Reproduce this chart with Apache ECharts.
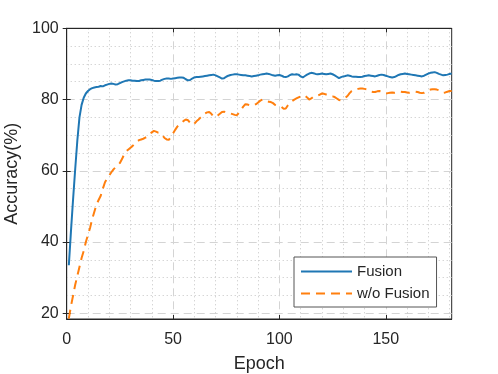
<!DOCTYPE html>
<html>
<head>
<meta charset="utf-8">
<script src="https://cdn.jsdelivr.net/npm/echarts@6/dist/echarts.min.js"></script>
<style>
  html, body { margin: 0; padding: 0; background: #fff; }
  #chart { width: 498px; height: 374px; }
</style>
</head>
<body>
<div id="chart"></div>
<script>
// accuracy per epoch (1..181)
const fusion = [
  33.5, 43, 52, 60.5, 68.5, 75, 78.5, 80.5, 81.7, 82.4,
  82.9, 83.2, 83.4, 83.5, 83.6, 83.8, 83.7, 84.0, 84.2, 84.4,
  84.5, 84.4, 84.2, 84.3, 84.6, 84.9, 85.1, 85.3, 85.4, 85.4,
  85.3, 85.3, 85.2, 85.2, 85.4, 85.5, 85.6, 85.6, 85.6, 85.5,
  85.3, 85.2, 85.2, 85.3, 85.6, 85.8, 85.9, 85.9, 85.8, 85.9,
  86.0, 86.1, 86.2, 86.2, 86.1, 85.7, 85.4, 85.5, 85.9, 86.2,
  86.3, 86.3, 86.4, 86.5, 86.6, 86.7, 86.8, 86.9, 87.0, 86.8,
  86.5, 86.2, 85.9, 86.0, 86.4, 86.7, 86.9, 87.0, 87.1, 87.1,
  87.0, 86.9, 86.8, 86.8, 86.7, 86.6, 86.5, 86.6, 86.7, 86.8,
  87.0, 87.1, 87.2, 87.3, 87.2, 87.0, 86.8, 86.7, 86.8, 86.9,
  86.7, 86.4, 86.3, 86.5, 86.9, 87.1, 87.0, 87.1, 87.0, 86.5,
  86.2, 86.6, 87.0, 87.3, 87.5, 87.4, 87.2, 87.1, 87.2, 87.3,
  87.2, 87.1, 87.2, 87.3, 87.1, 86.8, 86.4, 86.0, 86.3, 86.5,
  86.6, 86.8, 86.7, 86.5, 86.4, 86.4, 86.3, 86.3, 86.4, 86.6,
  86.7, 86.8, 86.7, 86.6, 86.5, 86.7, 86.9, 87.0, 86.9, 86.7,
  86.5, 86.3, 86.2, 86.3, 86.6, 86.9, 87.1, 87.2, 87.3, 87.2,
  87.1, 87.0, 86.9, 86.8, 86.7, 86.6, 86.5, 86.7, 87.0, 87.3,
  87.5, 87.6, 87.7, 87.5, 87.2, 87.0, 86.8, 86.9, 87.0, 87.2,
  87.3
];
const noFusion = [
  18.5, 22, 25, 28, 30.5, 33, 35.5, 37.5, 40, 42,
  44, 46.5, 48.5, 50.5, 51.8, 53, 55, 56.8, 57.8, 58.7,
  59.6, 60.4, 61, 61.6, 62.2, 63.3, 64.6, 65.5, 66, 66.5,
  67, 67.6, 68.2, 68.6, 68.8, 69, 69.3, 69.6, 70.2, 70.8,
  71.2, 71.0, 70.7, 70.6, 70.0, 69.2, 68.8, 68.7, 69.5, 70.5,
  71.5, 72.4, 73, 73.5, 74, 74.4, 74.2, 73.5, 72.9, 73.2,
  73.9, 74.4, 75, 75.6, 76.1, 76.4, 76.5, 76, 75.3, 75.1,
  75.5, 76, 76.5, 76.6, 76.4, 76.2, 76.1, 75.9, 75.7, 75.6,
  76.3, 77.2, 78, 78.7, 78.6, 78.4, 78.3, 78.4, 78.7, 79.2,
  79.7, 80, 79.8, 79.5, 79.4, 79.3, 79.0, 78.5, 78.3, 78.1,
  77.9, 77.4, 77.5, 78.4, 79.1, 79.6, 80.0, 80.3, 80.6, 80.9,
  81.2, 81.1, 80.6, 80.0, 80.3, 80.8, 81.0, 81.1, 81.4, 81.7,
  81.6, 81.4, 81.2, 81.0, 80.9, 80.7, 80.3, 79.9, 79.8, 80.1,
  80.5, 81.0, 81.8, 82.4, 82.6, 82.8, 83.0, 83.1, 83.1, 83.0,
  82.9, 82.6, 82.3, 82.1, 82.1, 82.3, 82.4, 82.2, 81.9, 81.7,
  81.8, 81.9, 82.0, 81.9, 82.0, 82.1, 82.2, 82.1, 82.1, 82.0,
  81.9, 82.0, 82.1, 82.2, 82.1, 81.9, 81.8, 81.9, 82.2, 82.6,
  82.8, 82.9, 82.9, 82.8, 82.6, 82.2, 81.9, 82.0, 82.2, 82.4,
  82.4
];
const epochs = fusion.map((v, i) => i + 1);

const xTicks = [0, 50, 100, 150];
const xMinor = [10, 20, 30, 40, 60, 70, 80, 90, 110, 120, 130, 140, 160, 170, 180];
const yTicks = [20, 40, 60, 80, 100];
const yMinor = [25, 30, 35, 45, 50, 55, 65, 70, 75, 85, 90, 95];

const axisColor = '#262626';
const font = 'Liberation Sans, Arial, Helvetica, sans-serif';

const majorGrid = { show: true, lineStyle: { color: '#d4d4d4', width: 1, type: [8, 5] } };
const minorGrid = { show: true, lineStyle: { color: '#c4c4c4', width: 1, type: [1, 3] } };

const chart = echarts.init(document.getElementById('chart'));
chart.setOption({
  backgroundColor: '#fff',
  animation: false,
  grid: {
    left: 66.7, right: 46.3, top: 28.3, bottom: 55,
    outerBoundsMode: 'none', containLabel: false,
    show: true, borderColor: axisColor, borderWidth: 1
  },
  legend: {
    orient: 'vertical',
    left: 294, top: 257,
    itemWidth: 51, itemHeight: 14, itemGap: 7,
    padding: [7, 7, 6, 6],
    borderColor: '#555', borderWidth: 1, backgroundColor: '#fff',
    itemStyle: { opacity: 0 },
    textStyle: { fontFamily: font, fontSize: 15, color: axisColor },
    data: ['Fusion', 'w/o Fusion']
  },
  xAxis: [
    {
      type: 'value', min: 0, max: 181, position: 'bottom',
      name: 'Epoch', nameLocation: 'middle', nameGap: 36,
      nameTextStyle: { fontFamily: font, fontSize: 18, color: axisColor },
      axisLine: { show: true, lineStyle: { color: axisColor } },
      axisTick: { show: true, inside: true, length: 4, customValues: xTicks, lineStyle: { color: axisColor } },
      axisLabel: { customValues: xTicks, margin: 13, fontFamily: font, fontSize: 16, color: axisColor },
      splitLine: majorGrid
    },
    {
      type: 'value', min: 0, max: 181, position: 'bottom',
      axisLine: { show: false },
      axisTick: { show: false, customValues: xMinor },
      axisLabel: { show: false },
      splitLine: minorGrid
    },
    {
      type: 'value', min: 0, max: 181, position: 'top',
      axisLine: { show: true, lineStyle: { color: axisColor } },
      axisTick: { show: true, inside: true, length: 4, customValues: xTicks, lineStyle: { color: axisColor } },
      axisLabel: { show: false },
      splitLine: { show: false }
    }
  ],
  yAxis: [
    {
      type: 'value', min: 18.4, max: 100, position: 'left',
      name: 'Accuracy(%)', nameLocation: 'middle', nameGap: 38,
      nameTextStyle: { fontFamily: font, fontSize: 18, color: axisColor },
      axisLine: { show: true, lineStyle: { color: axisColor } },
      axisTick: { show: true, inside: true, length: 4, customValues: yTicks, lineStyle: { color: axisColor } },
      axisLabel: { customValues: yTicks, margin: 8, fontFamily: font, fontSize: 16, color: axisColor },
      splitLine: majorGrid
    },
    {
      type: 'value', min: 18.4, max: 100, position: 'left',
      axisLine: { show: false },
      axisTick: { show: false, customValues: yMinor },
      axisLabel: { show: false },
      splitLine: minorGrid
    },
    {
      type: 'value', min: 18.4, max: 100, position: 'right',
      axisLine: { show: true, lineStyle: { color: axisColor } },
      axisTick: { show: true, inside: true, length: 4, customValues: yTicks, lineStyle: { color: axisColor } },
      axisLabel: { show: false },
      splitLine: { show: false }
    }
  ],
  series: [
    {
      name: 'Fusion', type: 'line', symbol: 'none', showSymbol: false,
      xAxisIndex: 0, yAxisIndex: 0,
      color: '#1f77b4',
      lineStyle: { width: 2, color: '#1f77b4' },
      data: epochs.map((e, i) => [e, fusion[i]])
    },
    {
      name: 'w/o Fusion', type: 'line', symbol: 'none', showSymbol: false,
      xAxisIndex: 0, yAxisIndex: 0,
      color: '#ff7f0e',
      lineStyle: { width: 2, color: '#ff7f0e', type: [9, 6] },
      data: epochs.map((e, i) => [e, noFusion[i]])
    }
  ]
});
</script>
</body>
</html>
